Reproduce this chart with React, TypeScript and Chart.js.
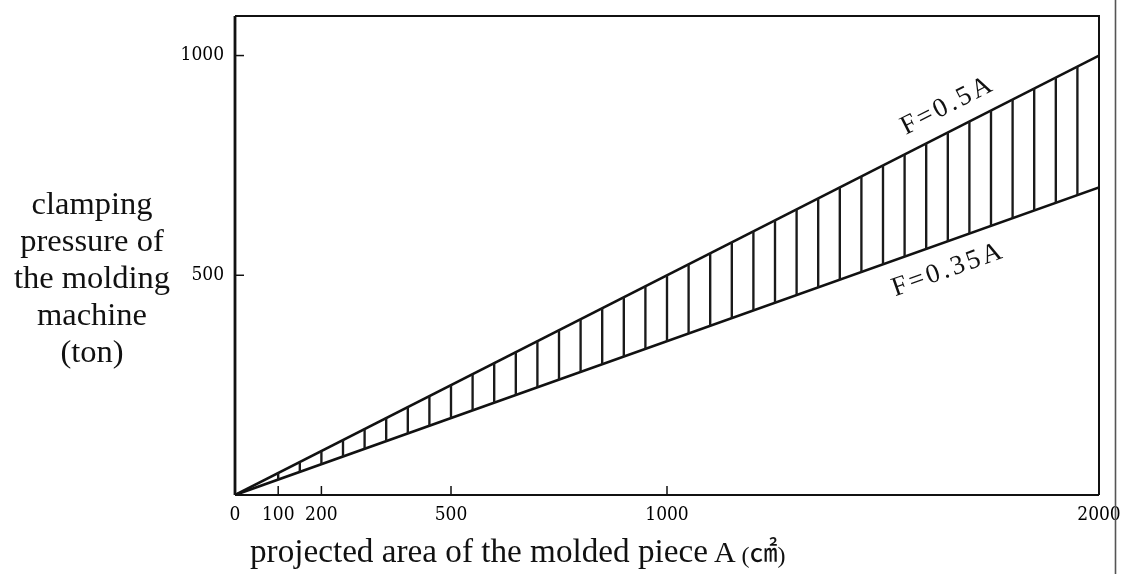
import React, { useEffect, useRef } from "react";
import { Chart, registerables } from "chart.js";

Chart.register(...registerables);

// ---- data ----
const xTickValues = [0, 100, 200, 500, 1000, 2000];
const yTickValues = [500, 1000];
const lineArea = [0, 2000];
const upperForce = [0, 1000]; // F = 0.5A
const lowerForce = [0, 700]; // F = 0.35A
const hatchArea = [
  100, 150, 200, 250, 300, 350, 400, 450, 500, 550, 600, 650, 700, 750, 800, 850, 900, 950, 1000,
  1050, 1100, 1150, 1200, 1250, 1300, 1350, 1400, 1450, 1500, 1550, 1600, 1650, 1700, 1750, 1800,
  1850, 1900, 1950,
];
const hatchTop = [
  50, 75, 100, 125, 150, 175, 200, 225, 250, 275, 300, 325, 350, 375, 400, 425, 450, 475, 500, 525,
  550, 575, 600, 625, 650, 675, 700, 725, 750, 775, 800, 825, 850, 875, 900, 925, 950, 975,
];
const hatchBottom = [
  35, 52.5, 70, 87.5, 105, 122.5, 140, 157.5, 175, 192.5, 210, 227.5, 245, 262.5, 280, 297.5, 315,
  332.5, 350, 367.5, 385, 402.5, 420, 437.5, 455, 472.5, 490, 507.5, 525, 542.5, 560, 577.5, 595,
  612.5, 630, 647.5, 665, 682.5,
];
const upperLabel = "F=0.5A";
const lowerLabel = "F=0.35A";
const upperLabelArea = 1672;
const lowerLabelArea = 1627;
const yTitleLines = ["clamping", "pressure of", "the molding", "machine", "(ton)"];
const xTitleMain = "projected area of the molded piece";
const xTitleSymbol = "A";
const xTitleUnit = "㎠";

const SERIF = "'Liberation Serif', 'Times New Roman', serif";
const TICKFONT = "'DejaVu Serif Condensed', 'Liberation Serif', serif";

const zeroPadding = (s: any) => {
  s.paddingTop = 0;
  s.paddingBottom = 0;
  s.paddingLeft = 0;
  s.paddingRight = 0;
};

const decorPlugin = {
  id: "decor",
  afterDatasetsDraw(chart: any) {
    const { ctx, chartArea: a, scales } = chart;
    const xs = scales.x;
    const ys = scales.y;
    ctx.save();
    // frame
    ctx.strokeStyle = "#111";
    ctx.lineWidth = 2;
    ctx.beginPath();
    ctx.moveTo(a.left, a.top);
    ctx.lineTo(a.right, a.top);
    ctx.lineTo(a.right, a.bottom);
    ctx.stroke();
    ctx.beginPath();
    ctx.moveTo(a.left, a.bottom);
    ctx.lineTo(a.right, a.bottom);
    ctx.stroke();
    ctx.lineWidth = 2.8;
    ctx.beginPath();
    ctx.moveTo(a.left, a.top);
    ctx.lineTo(a.left, a.bottom);
    ctx.stroke();
    // inward ticks
    ctx.lineWidth = 1.5;
    yTickValues.forEach((v) => {
      const py = ys.getPixelForValue(v);
      ctx.beginPath();
      ctx.moveTo(a.left, py);
      ctx.lineTo(a.left + 9, py);
      ctx.stroke();
    });
    xTickValues.forEach((v) => {
      if (v === xs.min || v === xs.max) return;
      const px = xs.getPixelForValue(v);
      ctx.beginPath();
      ctx.moveTo(px, a.bottom);
      ctx.lineTo(px, a.bottom - 9);
      ctx.stroke();
    });
    // page edge line
    ctx.strokeStyle = "#555";
    ctx.lineWidth = 1.6;
    ctx.beginPath();
    ctx.moveTo(a.right + 16.5, 0);
    ctx.lineTo(a.right + 16.5, chart.height);
    ctx.stroke();

    // line labels
    const drawLabel = (vals: number[], text: string, at: number, offset: number) => {
      const p0x = xs.getPixelForValue(lineArea[0]);
      const p0y = ys.getPixelForValue(vals[0]);
      const p1x = xs.getPixelForValue(lineArea[1]);
      const p1y = ys.getPixelForValue(vals[1]);
      const ang = Math.atan2(p1y - p0y, p1x - p0x);
      const t = (at - lineArea[0]) / (lineArea[1] - lineArea[0]);
      const vy = vals[0] + t * (vals[1] - vals[0]);
      const ax = xs.getPixelForValue(at);
      const ay = ys.getPixelForValue(vy);
      ctx.save();
      ctx.translate(ax, ay);
      ctx.rotate(ang);
      ctx.fillStyle = "#111";
      ctx.font = `27px ${SERIF}`;
      (ctx as any).letterSpacing = "3px";
      ctx.textAlign = "center";
      ctx.textBaseline = "middle";
      ctx.fillText(text, 1.5, offset);
      ctx.restore();
    };
    drawLabel(upperForce, upperLabel, upperLabelArea, -24);
    drawLabel(lowerForce, lowerLabel, lowerLabelArea, 27);

    // y title (horizontal, multi-line)
    ctx.fillStyle = "#111";
    ctx.font = `32.5px ${SERIF}`;
    ctx.textAlign = "center";
    ctx.textBaseline = "alphabetic";
    yTitleLines.forEach((line, i) => {
      ctx.fillText(line, 92, 214 + i * 37);
    });

    // x title
    ctx.textAlign = "left";
    let x = 250;
    const base = 562;
    ctx.font = `33.2px ${SERIF}`;
    ctx.fillText(xTitleMain, x, base);
    x += ctx.measureText(xTitleMain).width + 6;
    ctx.font = `30px ${SERIF}`;
    ctx.fillText(xTitleSymbol, x, base);
    x += ctx.measureText(xTitleSymbol).width + 6;
    ctx.font = `24px ${SERIF}`;
    ctx.fillText("(", x, base + 1);
    x += ctx.measureText("(").width;
    ctx.font = `28px 'Noto Sans CJK SC', sans-serif`;
    ctx.fillText(xTitleUnit, x, base);
    x += ctx.measureText(xTitleUnit).width;
    ctx.font = `24px ${SERIF}`;
    ctx.fillText(")", x, base + 1);
    ctx.restore();
  },
};

export default function App() {
  const ref = useRef<HTMLCanvasElement | null>(null);
  useEffect(() => {
    if (!ref.current) return;
    const hatchData = hatchArea.map((a, i) => ({ x: a, y: [hatchBottom[i], hatchTop[i]] }));
    const chart = new Chart(ref.current, {
      type: "bar",
      data: {
        datasets: [
          {
            type: "bar",
            data: hatchData as any,
            backgroundColor: "#1a1a1a",
            borderWidth: 0,
            barThickness: 1.7,
            grouped: false,
          } as any,
          {
            type: "line",
            data: lineArea.map((a, i) => ({ x: a, y: upperForce[i] })),
            borderColor: "#111",
            borderWidth: 2.6,
            pointRadius: 0,
            fill: false,
          } as any,
          {
            type: "line",
            data: lineArea.map((a, i) => ({ x: a, y: lowerForce[i] })),
            borderColor: "#111",
            borderWidth: 2.6,
            pointRadius: 0,
            fill: false,
          } as any,
        ],
      },
      options: {
        responsive: false,
        animation: false,
        events: [],
        layout: { padding: { top: 16, right: 27, left: 0, bottom: 0 } },
        plugins: { legend: { display: false }, tooltip: { enabled: false } },
        scales: {
          x: {
            type: "linear",
            min: 0,
            max: 2000,
            offset: false,
            grid: { display: false, offset: false, drawTicks: false },
            border: { display: false },
            afterBuildTicks: (s: any) => {
              s.ticks = xTickValues.map((v) => ({ value: v }));
            },
            afterFit: (s: any) => {
              s.height = 79;
              zeroPadding(s);
            },
            ticks: {
              autoSkip: false,
              maxRotation: 0,
              padding: 9,
              color: "#000",
              font: { family: TICKFONT, size: 19 },
              callback: (v: any) => String(v),
            },
          },
          y: {
            type: "linear",
            min: 0,
            max: 1090,
            grid: { display: false, drawTicks: false },
            border: { display: false },
            afterBuildTicks: (s: any) => {
              s.ticks = yTickValues.map((v) => ({ value: v }));
            },
            afterFit: (s: any) => {
              s.width = 235;
              zeroPadding(s);
            },
            ticks: {
              autoSkip: false,
              padding: 11,
              color: "#000",
              font: { family: TICKFONT, size: 19 },
              callback: (v: any) => String(v),
            },
          },
        },
      } as any,
      plugins: [decorPlugin],
    });
    return () => chart.destroy();
  }, []);
  return (
    <div style={{ position: "fixed", left: 0, top: 0, width: 1126, height: 574, background: "#fff" }}>
      <canvas ref={ref} width={1126} height={574} style={{ display: "block" }} />
    </div>
  );
}
